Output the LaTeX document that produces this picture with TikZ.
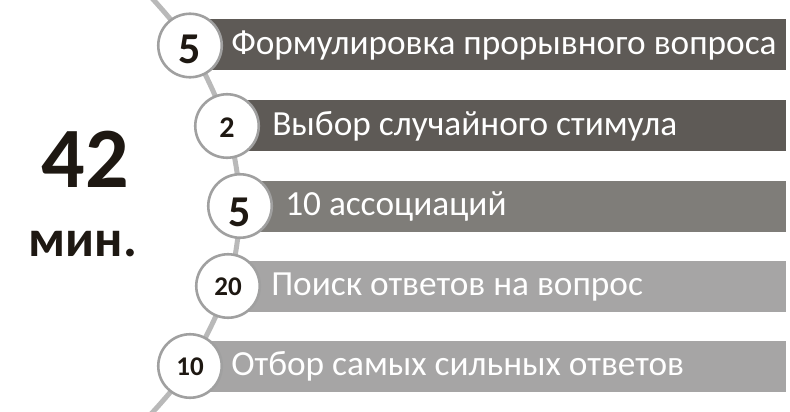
\documentclass[tikz,border=0pt]{standalone}
\usepackage{fontspec}
\setmainfont{Carlito}
\usetikzlibrary{positioning}

\definecolor{bardark}{RGB}{94,90,86}
\definecolor{barmid}{RGB}{127,125,121}
\definecolor{barlight}{RGB}{166,165,165}
\definecolor{ringgray}{RGB}{160,160,160}
\definecolor{linegray}{RGB}{185,185,185}
\definecolor{numbrown}{RGB}{30,24,18}

\tikzset{
  stage/.style={circle, draw=ringgray, line width=2.6pt, fill=white, minimum size=63.5pt, inner sep=0pt},
  num/.style={inner sep=0pt, text=numbrown, font=\bfseries\fontsize{#1}{#1}\selectfont},
  bartext/.style={anchor=base west, inner sep=0pt, text=white, font=\fontsize{35.3}{36}\selectfont},
}

\begin{document}
\begin{tikzpicture}[x=1pt,y=-1pt]
  \useasboundingbox (0,0) rectangle (790,412);

  \coordinate (top) at (150,-4);
  \coordinate (c1) at (190,45.5);
  \coordinate (c2) at (227,126);
  \coordinate (c3) at (240,206);
  \coordinate (c4) at (228,286);
  \coordinate (c5) at (190,366);
  \coordinate (bot) at (151,414);

  % time line
  \draw [linegray, line width=5pt] plot [smooth] coordinates {(top) (c1) (c2) (c3) (c4) (c5) (bot)};

  % bars
  \fill [bardark] (190,19.5) rectangle (786,70.5);
  \fill [bardark] (227,100) rectangle (786,151);
  \fill [barmid] (240,180.5) rectangle (786,231.5);
  \fill [barlight] (228,261) rectangle (786,312);
  \fill [barlight] (190,341) rectangle (786,392);

  % stages
  \node [stage] (s1) at (c1) {};
  \node [num=44] (n1) at ([yshift=-3.5pt]s1.center) {5};
  \node [bartext] (t1) at ([xshift=8pt,yshift=-9pt]s1.east) {Формулировка прорывного вопроса};

  \node [stage] (s2) at (c2) {};
  \node [num=30] (n2) at ([yshift=-1.5pt]s2.center) {2};
  \node [bartext] (t2) at ([xshift=12pt,yshift=-9pt]s2.east) {Выбор случайного стимула};

  \node [stage] (s3) at (c3) {};
  \node [num=44] (n3) at ([yshift=-6pt]s3.center) {5};
  \node [bartext] (t3) at ([xshift=12pt,yshift=-9pt]s3.east) {10 ассоциаций};

  \node [stage] (s4) at (c4) {};
  \node [num=27] (n4) at ([yshift=-0.5pt]s4.center) {20};
  \node [bartext] (t4) at ([xshift=10pt,yshift=-9pt]s4.east) {Поиск ответов на вопрос};

  \node [stage] (s5) at (c5) {};
  \node [num=27] (n5) at ([yshift=-0.5pt]s5.center) {10};
  \node [bartext] (t5) at ([xshift=8pt,yshift=-9pt]s5.east) {Отбор самых сильных ответов};

  % total
  \node [num=86, anchor=base] (total) at (85,187) {42};
  \node [num=52, anchor=base] (unit) at (83,256) {мин.};
\end{tikzpicture}
\end{document}
